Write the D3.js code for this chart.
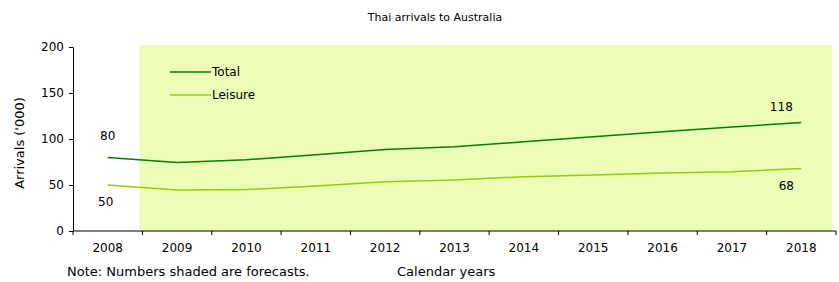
<!DOCTYPE html>
<html lang="en">
	<head>
		<meta charset="utf-8">
		<title>Thai arrivals to Australia</title>
		<script type="text/javascript" src="https://cdn.jsdelivr.net/npm/d3@7/dist/d3.min.js"></script>
		<style type="text/css">
			body { margin: 0; background: #fff; }
			text { font-family: "DejaVu Sans", Verdana, sans-serif; fill: #000; }
			.axis path, .axis line { stroke: #000; }
		</style>
	</head>
	<body>
		<script type="text/javascript">
			//Width and height
			var w = 839;
			var h = 282;

			var years = ["2008", "2009", "2010", "2011", "2012", "2013", "2014", "2015", "2016", "2017", "2018"];
			var total = [80, 74.5, 77.5, 83, 88.5, 91.5, 97, 102.5, 108, 113, 118];
			var leisure = [50, 44.5, 45, 49, 53.5, 55.5, 59, 61, 63, 64.5, 68];
			var yTicks = [0, 50, 100, 150, 200];
			var firstForecast = "2009";

			//plot edges (note: "top" is reserved on window)
			var pLeft = 73, pRight = 836, pTop = 47, pBottom = 231;

			var xScale = d3.scaleBand()
							.domain(years)
							.range([pLeft, pRight]);
			var yScale = d3.scaleLinear()
							.domain([0, 200])
							.range([pBottom, pTop]);

			var svg = d3.select("body")
						.append("svg")
						.attr("width", w)
						.attr("height", h);

			//Forecast shading
			svg.append("rect")
				.attr("x", xScale(firstForecast) - 3)
				.attr("y", yScale(200) - 2)
				.attr("width", pRight - 4 - (xScale(firstForecast) - 3))
				.attr("height", pBottom - yScale(200) + 2)
				.attr("fill", "#ebfdb7");

			//Axes
			var xAxis = d3.axisBottom(xScale).tickSize(0).tickPadding(12);
			var gx = svg.append("g")
				.attr("class", "x axis")
				.attr("transform", "translate(0," + pBottom + ")")
				.call(xAxis);
			gx.select(".domain").attr("d", "M" + pLeft + ",0H" + pRight);
			gx.selectAll("text").attr("font-size", "12px");
			//tick marks on band edges
			gx.selectAll(".edge")
				.data(years.concat(["end"]))
				.enter()
				.append("line")
				.attr("x1", function(d, i) { return i < years.length ? xScale(d) : pRight; })
				.attr("x2", function(d, i) { return i < years.length ? xScale(d) : pRight; })
				.attr("y1", 0)
				.attr("y2", 4)
				.attr("stroke", "#000");

			var yAxis = d3.axisLeft(yScale).tickValues(yTicks).tickSize(4).tickSizeOuter(0).tickPadding(5);
			var gy = svg.append("g")
				.attr("class", "y axis")
				.attr("transform", "translate(" + pLeft + ",0)")
				.call(yAxis);
			gy.selectAll("text").attr("font-size", "12px");

			//Lines
			var line = d3.line()
				.x(function(d, i) { return xScale(years[i]) + xScale.bandwidth() / 2; })
				.y(function(d) { return yScale(d); });

			svg.append("path")
				.datum(leisure)
				.attr("d", line)
				.attr("fill", "none")
				.attr("stroke", "#99cc00")
				.attr("stroke-width", 1.5);
			svg.append("path")
				.datum(total)
				.attr("d", line)
				.attr("fill", "none")
				.attr("stroke", "#008000")
				.attr("stroke-width", 1.5);

			//End labels
			var last = years.length - 1;
			var labels = [
				{ t: total[0], x: xScale(years[0]), dy: -17 },
				{ t: leisure[0], x: xScale(years[0]) - 2, dy: 21 },
				{ t: total[last], x: xScale(years[last]) - 20, dy: -11 },
				{ t: leisure[last], x: xScale(years[last]) - 15, dy: 22 }
			];
			svg.selectAll(".lbl")
				.data(labels)
				.enter()
				.append("text")
				.attr("x", function(d) { return d.x + xScale.bandwidth() / 2; })
				.attr("y", function(d) { return yScale(d.t) + d.dy; })
				.attr("text-anchor", "middle")
				.attr("font-size", "12px")
				.text(function(d) { return d.t; });

			//Legend
			var legend = [["Total", "#008000"], ["Leisure", "#99cc00"]];
			var lg = svg.selectAll(".legend")
				.data(legend)
				.enter()
				.append("g")
				.attr("transform", function(d, i) { return "translate(170," + (72 + i * 23) + ")"; });
			lg.append("line")
				.attr("x1", 0).attr("x2", 41)
				.attr("stroke", function(d) { return d[1]; })
				.attr("stroke-width", 1.5);
			lg.append("text")
				.attr("x", 42)
				.attr("y", 4)
				.attr("font-size", "12px")
				.text(function(d) { return d[0]; });

			//Titles
			svg.append("text")
				.attr("x", 435)
				.attr("y", 21)
				.attr("text-anchor", "middle")
				.attr("font-size", "11px")
				.text("Thai arrivals to Australia");
			svg.append("text")
				.attr("transform", "translate(24,143) rotate(-90)")
				.attr("text-anchor", "middle")
				.attr("font-size", "13px")
				.text("Arrivals ('000)");
			svg.append("text")
				.attr("x", 67)
				.attr("y", 276)
				.attr("font-size", "13px")
				.text("Note:  Numbers shaded are forecasts.");
			svg.append("text")
				.attr("x", 397)
				.attr("y", 276)
				.attr("font-size", "13px")
				.text("Calendar years");
		</script>
	</body>
</html>
